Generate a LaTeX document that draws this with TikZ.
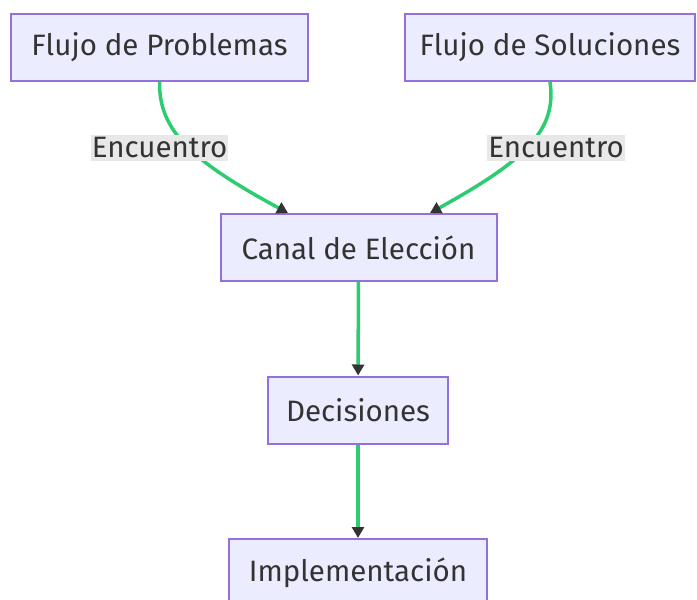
\documentclass[tikz,border=0pt]{standalone}
\usepackage{fontspec}
\setmainfont{Fira Sans}
\usepackage{tikz}
\usetikzlibrary{arrows.meta, positioning}
\usepackage{xcolor}

\definecolor{boxfill}{HTML}{ECECFF}
\definecolor{boxline}{HTML}{9370DB}
\definecolor{txtgray}{HTML}{333333}
\definecolor{edgegreen}{HTML}{2ECC71}
\definecolor{lblfill}{HTML}{E8E8E8}

\begin{document}
\begin{tikzpicture}[
        x=1pt, y=1pt,
        block/.style={draw=boxline, fill=boxfill, line width=2pt, rectangle, minimum height=67pt, inner xsep=4pt, text=txtgray, font=\fontsize{29.5}{34}\selectfont},
        lbl/.style={fill=lblfill, inner xsep=1pt, inner ysep=3pt, text=txtgray, font=\fontsize{29.5}{34}\selectfont},
        flow/.style={draw=edgegreen, line width=3.5pt, -{Triangle[length=11pt, width=12pt, color=txtgray]}},
        >=Stealth
      ]

      \useasboundingbox (0,0) rectangle (697,-600);

      % Streams
      \node [block, minimum width=297pt] (prob) at (159.5,-47.5) {Flujo de Problemas};
      \node [block, minimum width=290pt] (sol) at (550,-47.5) {Flujo de Soluciones};

      % Choice and outcome
      \node [block, minimum width=276pt] (canal) at (358.5,-247.5) {Canal de Elección};
      \node [block, minimum width=180pt] (dec) at (358,-410) {Decisiones};
      \node [block, minimum width=258pt] (impl) at (358,-572.5) {Implementación};

      % Coupling
      \draw[flow] (prob.south) .. controls (159,-130) and (190,-160) .. ([xshift=-70.5pt]canal.north);
      \draw[flow] (sol.south) .. controls (557,-130) and (526,-160) .. ([xshift=71.5pt]canal.north);

      \node [lbl] (encP) at (159.5,-148) {Encuentro};
      \node [lbl] (encS) at (556,-148) {Encuentro};

      \draw[flow] (canal) -- (dec);
      \draw[flow] (dec) -- (impl);

    \end{tikzpicture}
\end{document}
